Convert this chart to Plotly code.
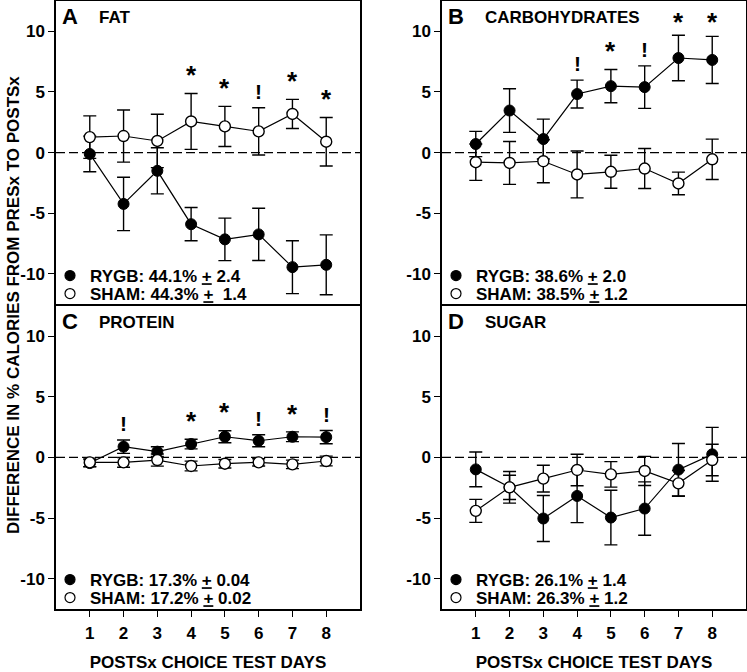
import plotly.graph_objects as go
from plotly.subplots import make_subplots

days = [1, 2, 3, 4, 5, 6, 7, 8]
day_labels = ["1", "2", "3", "4", "5", "6", "7", "8"]

panel_letters = ["A", "B", "C", "D"]
panel_titles = ["FAT", "CARBOHYDRATES", "PROTEIN", "SUGAR"]

# FAT
fat_rygb = [-0.11, -4.23, -1.5, -5.9, -7.15, -6.74, -9.44, -9.25]
fat_rygb_se = [1.47, 2.2, 1.9, 1.37, 1.75, 2.15, 2.18, 2.47]
fat_sham = [1.28, 1.37, 0.96, 2.57, 2.16, 1.75, 3.19, 0.9]
fat_sham_se = [1.75, 2.15, 2.2, 2.3, 1.65, 1.95, 1.2, 2.0]
fat_sig = ["", "", "", "*", "*", "!", "*", "*"]

# CARBOHYDRATES
carb_rygb = [0.71, 3.47, 1.12, 4.83, 5.48, 5.4, 7.8, 7.64]
carb_rygb_se = [1.04, 1.8, 1.64, 1.15, 1.37, 1.75, 1.88, 1.94]
carb_sham = [-0.79, -0.85, -0.71, -1.8, -1.58, -1.31, -2.54, -0.55]
carb_sham_se = [1.5, 1.77, 1.77, 1.93, 1.36, 1.65, 0.93, 1.66]
carb_sig = ["", "", "", "!", "*", "!", "*", "*"]

# PROTEIN
prot_rygb = [-0.47, 0.88, 0.47, 1.1, 1.7, 1.37, 1.7, 1.67]
prot_rygb_se = [0.3, 0.55, 0.4, 0.4, 0.5, 0.5, 0.4, 0.55]
prot_sham = [-0.41, -0.41, -0.22, -0.71, -0.52, -0.41, -0.58, -0.3]
prot_sham_se = [0.35, 0.4, 0.5, 0.4, 0.35, 0.3, 0.35, 0.4]
prot_sig = ["", "!", "", "*", "*", "!", "*", "!"]

# SUGAR
sug_rygb = [-0.99, -2.47, -5.04, -3.18, -4.96, -4.22, -1.01, 0.25]
sug_rygb_se = [1.43, 1.3, 1.9, 2.2, 2.25, 2.2, 2.16, 2.22]
sug_sham = [-4.41, -2.47, -1.75, -1.04, -1.4, -1.12, -2.14, -0.22]
sug_sham_se = [0.95, 1.0, 1.1, 1.3, 1.05, 1.2, 1.06, 1.3]
sug_sig = ["", "", "", "", "", "", "", ""]

rygb_baseline = ["44.1", "38.6", "17.3", "26.1"]
rygb_baseline_se = ["2.4", "2.0", "0.04", "1.4"]
sham_baseline = ["44.3", "38.5", "17.2", "26.3"]
sham_baseline_se = ["\u00a01.4", "1.2", "0.02", "1.2"]

y_tickvals = [-10, -5, 0, 5, 10]
y_ticktext = ["-10", "-5", "0", "5", "10"]

y_title = "DIFFERENCE IN % CALORIES FROM PRESx TO POSTSx"
x_title = "POSTSx CHOICE TEST DAYS"

panels = [
    (fat_rygb, fat_rygb_se, fat_sham, fat_sham_se, fat_sig),
    (carb_rygb, carb_rygb_se, carb_sham, carb_sham_se, carb_sig),
    (prot_rygb, prot_rygb_se, prot_sham, prot_sham_se, prot_sig),
    (sug_rygb, sug_rygb_se, sug_sham, sug_sham_se, sug_sig),
]

FONT = "Liberation Sans, Arial, sans-serif"
W, H = 747, 672
ML, MR, MT, MB = 56, 1, 1, 63
PW = W - ML - MR
PH = H - MT - MB
LW = 1.5

def px_x(p):
    return (p - ML) / PW

def px_y(p):
    return (H - MB - p) / PH

col_dom = [[0, px_x(360)], [px_x(442), 1]]
row_dom = [[px_y(305 - LW / 2), 1], [0, px_y(305 + LW / 2)]]
col_left_px = [56, 442]
row_bottom_px = [305, 609]

fig = make_subplots(rows=2, cols=2)

leg_cfg = {}
leg_idx = 0

def bold(s):
    return "<b>%s</b>" % s

for i, (ry, rse, sy, sse, sig) in enumerate(panels):
    r = i // 2 + 1
    c = i % 2 + 1
    fig.add_trace(go.Scatter(
        x=days, y=ry, mode="lines+markers",
        line=dict(color="black", width=1.2),
        marker=dict(symbol="circle", size=11, color="black",
                    line=dict(color="black", width=1)),
        error_y=dict(type="data", array=rse, visible=True,
                     color="black", thickness=1.4, width=6.5),
        showlegend=False, hoverinfo="skip"), row=r, col=c)
    fig.add_trace(go.Scatter(
        x=days, y=sy, mode="lines+markers",
        line=dict(color="black", width=1.2),
        marker=dict(symbol="circle", size=11, color="white",
                    line=dict(color="black", width=1.4)),
        error_y=dict(type="data", array=sse, visible=True,
                     color="black", thickness=1.4, width=6.5),
        showlegend=False, hoverinfo="skip"), row=r, col=c)

    # legend-only entries, each in its own legend box
    entries = [
        ("black", "RYGB: " + rygb_baseline[i] + "% <u>+</u> " + rygb_baseline_se[i], 29),
        ("white", "SHAM: " + sham_baseline[i] + "% <u>+</u> " + sham_baseline_se[i], 11),
    ]
    for fill, label, off in entries:
        leg_idx += 1
        lname = "legend" if leg_idx == 1 else "legend%d" % leg_idx
        fig.add_trace(go.Scatter(
            x=[None], y=[None], mode="markers",
            marker=dict(symbol="circle", size=10, color=fill,
                        line=dict(color="black", width=1.2)),
            name=bold(label), legend=lname, showlegend=True), row=r, col=c)
        leg_cfg[lname] = dict(
            x=px_x(col_left_px[c - 1] - 6), y=px_y(row_bottom_px[r - 1] - off),
            xanchor="left", yanchor="middle", xref="paper", yref="paper",
            bgcolor="rgba(0,0,0,0)", borderwidth=0, itemwidth=30,
            itemclick=False, itemdoubleclick=False,
            font=dict(family=FONT, size=17, color="black"))

    xa = "x" if i == 0 else "x%d" % (i + 1)
    ya = "y" if i == 0 else "y%d" % (i + 1)
    # significance marks
    for d, rv, re_, sv, se_, s in zip(days, ry, rse, sy, sse, sig):
        if not s:
            continue
        top = max(rv + re_, sv + se_)
        yv = min(top + 1.75, 11.0)
        fig.add_annotation(x=d, y=yv, xref=xa, yref=ya, text=bold(s),
                           showarrow=False, yanchor="middle",
                           yshift=-3 if s == "*" else -5,
                           font=dict(family=FONT, size=26 if s == "*" else 21,
                                     color="black"))
    # letter and title
    fig.add_annotation(x=0.012, y=0.948, xref=xa + " domain", yref=ya + " domain",
                       text=bold(panel_letters[i]), showarrow=False,
                       xanchor="left", yanchor="middle",
                       font=dict(family=FONT, size=22, color="black"))
    fig.add_annotation(x=0.135, y=0.946, xref=xa + " domain", yref=ya + " domain",
                       text=bold(panel_titles[i]), showarrow=False,
                       xanchor="left", yanchor="middle",
                       font=dict(family=FONT, size=17, color="black"))
    # zero line
    fig.add_shape(type="line", xref=xa + " domain", yref=ya, x0=0, x1=1, y0=0, y1=0,
                  layer="below",
                  line=dict(color="black", width=1.4, dash="9px,4px"))

    bottom = r == 2
    fig.update_xaxes(
        domain=col_dom[c - 1], range=[0, 9], tickvals=days,
        ticktext=[bold(t) for t in day_labels],
        showticklabels=bottom, ticks="outside" if bottom else "",
        ticklen=6, tickwidth=1.4, tickcolor="black", ticklabelstandoff=2,
        showline=True, linecolor="black", linewidth=LW, mirror=True,
        showgrid=False, zeroline=False,
        tickfont=dict(family=FONT, size=17, color="black"),
        title=dict(text=bold(x_title) if bottom else "",
                   font=dict(family=FONT, size=17, color="black"), standoff=29),
        row=r, col=c)
    fig.update_yaxes(
        domain=row_dom[r - 1], range=[-12.5, 12.5], tickvals=y_tickvals,
        ticktext=[bold(t) for t in y_ticktext], ticks="outside", ticklen=6,
        tickwidth=1.4, tickcolor="black", showline=True, linecolor="black",
        linewidth=LW, mirror=True, showgrid=False, zeroline=False,
        tickfont=dict(family=FONT, size=17, color="black"),
        row=r, col=c)

fig.add_annotation(x=px_x(13), y=px_y(305), xref="paper", yref="paper",
                   text=bold(y_title), textangle=-90, showarrow=False,
                   xanchor="center", yanchor="middle",
                   font=dict(family=FONT, size=17, color="black"))

fig.update_layout(
    width=W, height=H,
    margin=dict(l=ML, r=MR, t=MT, b=MB, autoexpand=False),
    paper_bgcolor="white", plot_bgcolor="white",
    showlegend=True,
    **leg_cfg,
)

fig.write_html("out.html", config={"displayModeBar": False},
               post_script="document.body.style.margin='0';")
